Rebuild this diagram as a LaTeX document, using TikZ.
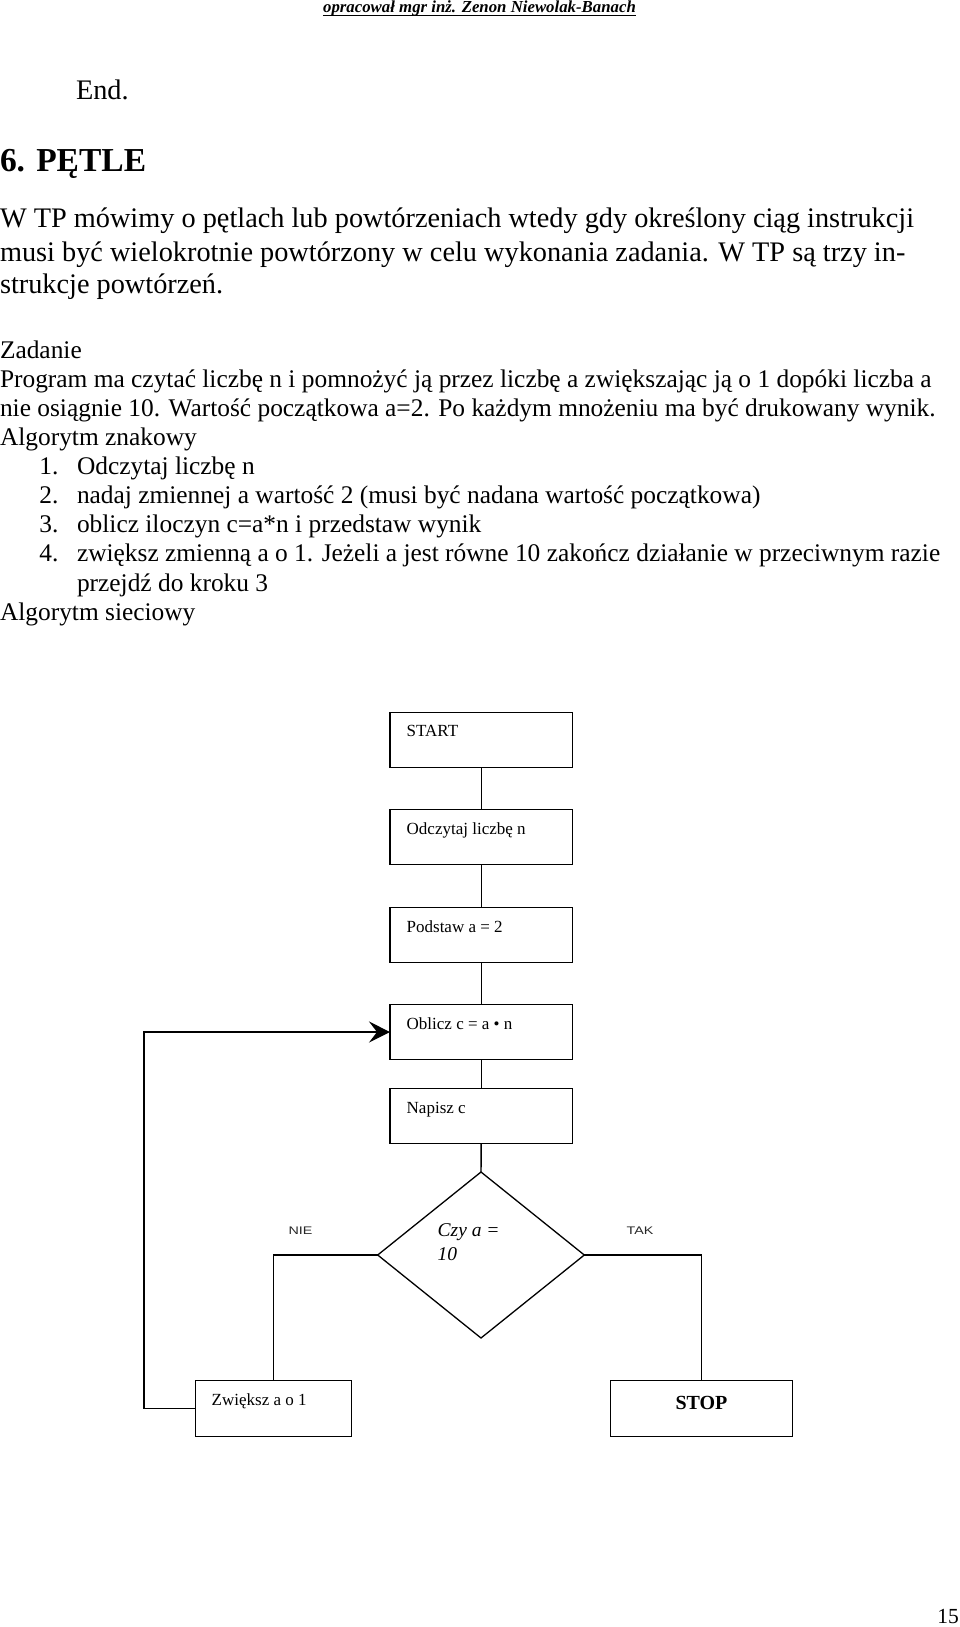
\documentclass[tikz,border=0pt]{standalone}
\usepackage{fontspec}
\usepackage{graphicx}
\setmainfont{Liberation Serif}
\newfontfamily\arialf{Liberation Sans}
\usetikzlibrary{shapes.geometric,arrows.meta,calc}
\begin{document}
\begin{tikzpicture}[x=1pt,y=-1pt,
  txt/.style={anchor=base west, inner sep=0pt, outer sep=0pt},
  big/.style={txt, font=\fontsize{28.3}{33}\selectfont},
  mid/.style={txt, font=\fontsize{25.4}{29}\selectfont},
  box/.style={draw, line width=1.3pt, minimum width=182.3pt, minimum height=55.4pt, inner sep=0pt, outer sep=0pt, anchor=north west},
  btxt/.style={txt, font=\fontsize{17}{20}\selectfont},
  conn/.style={line width=1.3pt, line join=miter},
  lbl/.style={txt, font=\arialf\fontsize{11}{13}\selectfont, text=black!85}
]
\useasboundingbox (0,0) rectangle (960,1627);

% header
\node[anchor=base, inner sep=0pt, font=\bfseries\itshape\fontsize{16.8}{20}\selectfont] (hdr) at (479.5,12.7) {opracował mgr inż. Zenon Niewolak-Banach};
\draw[line width=0.9pt] ([yshift=-2.4pt]hdr.base west) -- ([yshift=-2.4pt]hdr.base east);

\node[big] (end) at (76,100) {End.};
\node[txt, font=\bfseries\fontsize{33.5}{40}\selectfont] (title) at (0,171.7) {6. PĘTLE};

\node[big] (p1) at (0,227.7) {W TP mówimy o pętlach lub powtórzeniach wtedy gdy określony ciąg instrukcji};
\node[big] (p2) at (0,261) {musi być wielokrotnie powtórzony w celu wykonania zadania. W TP są trzy in-};
\node[big] (p3) at (0,293.3) {strukcje powtórzeń.};

\node[mid] (z0) at (0,358.3) {Zadanie};
\node[mid] (z1) at (0,387.4) {Program ma czytać liczbę n i pomnożyć ją przez liczbę a zwiększając ją o 1 dopóki liczba a};
\node[mid] (z2) at (0,416.5) {nie osiągnie 10. Wartość początkowa a=2. Po każdym mnożeniu ma być drukowany wynik.};
\node[mid] (z3) at (0,445.5) {Algorytm znakowy};
\node[mid] (n1) at (39.3,474.6) {1.};
\node[mid] (l1) at (77,474.6) {Odczytaj liczbę n};
\node[mid] (n2) at (39.3,503.7) {2.};
\node[mid] (l2) at (77,503.7) {nadaj zmiennej a wartość 2 (musi być nadana wartość początkowa)};
\node[mid] (n3) at (39.3,532.8) {3.};
\node[mid] (l3) at (77,532.8) {oblicz iloczyn c=a*n i przedstaw wynik};
\node[mid] (n4) at (39.3,561.9) {4.};
\node[mid] (l4) at (77,561.9) {zwiększ zmienną a o 1. Jeżeli a jest równe 10 zakończ działanie w przeciwnym razie};
\node[mid] (l4b) at (77,591) {przejdź do kroku 3};
\node[mid] (z4) at (0,620) {Algorytm sieciowy};

% flowchart boxes
\node[box] (b1) at (390,712.3) {};
\node[box] (b2) at (390,809.3) {};
\node[box] (b3) at (390,907.3) {};
\node[box] (b4) at (390,1004.3) {};
\node[box] (b5) at (390,1088.3) {};
\node[diamond, draw, line width=1.3pt, minimum width=206.6pt, minimum height=166pt, inner sep=0pt, outer sep=0pt] (dec) at (481,1255) {};
\node[box, minimum width=156pt, minimum height=56pt] (inc) at (195.7,1380.7) {};
\node[box, minimum width=181.6pt, minimum height=56pt] (stop) at (610.7,1380.7) {};

% box texts
\node[btxt] (t1) at ($(b1.north west)+(16.7,24.6)$) {START};
\node[btxt] (t2) at ($(b2.north west)+(16.7,24.8)$) {Odczytaj liczbę n};
\node[btxt] (t3) at ($(b3.north west)+(16.7,25.2)$) {Podstaw a = 2};
\node[btxt] (t4) at ($(b4.north west)+(16.7,25.4)$) {Oblicz c = a • n};
\node[btxt] (t5) at ($(b5.north west)+(16.7,25)$) {Napisz c};
\node[btxt] (t6) at ($(inc.north west)+(16,25)$) {Zwiększ a o 1};
\node[anchor=base, inner sep=0pt, font=\bfseries\fontsize{20}{24}\selectfont] (t7) at (701.5,1409) {STOP};
\node[txt, font=\itshape\fontsize{19.5}{23}\selectfont] (q1) at (437.7,1236.7) {Czy a =};
\node[txt, font=\itshape\fontsize{19.5}{23}\selectfont] (q2) at (437.7,1260) {10};
\node[lbl] (nie) at (288.5,1234.4) {\scalebox{1.3}[1]{NIE}};
\node[lbl] (tak) at (626.7,1234.4) {\scalebox{1.3}[1]{TAK}};

% connectors
\draw[conn] (b1) -- (b2);
\draw[conn] (b2) -- (b3);
\draw[conn] (b3) -- (b4);
\draw[conn] (b4) -- (b5);
\draw[conn] (b5) -- (dec);
\draw[conn] (dec.west) -| (inc.north);
\draw[conn] (dec.east) -| (stop.north);
\coordinate (loopc) at (144,1408.7);
\draw[conn, -{Stealth[length=21pt, width=21pt, inset=8pt]}] (inc.west) -- (loopc) |- (b4.west);

% page number
\node[txt, font=\fontsize{21.5}{25}\selectfont] (pg) at (937.3,1623.3) {15};
\end{tikzpicture}
\end{document}
